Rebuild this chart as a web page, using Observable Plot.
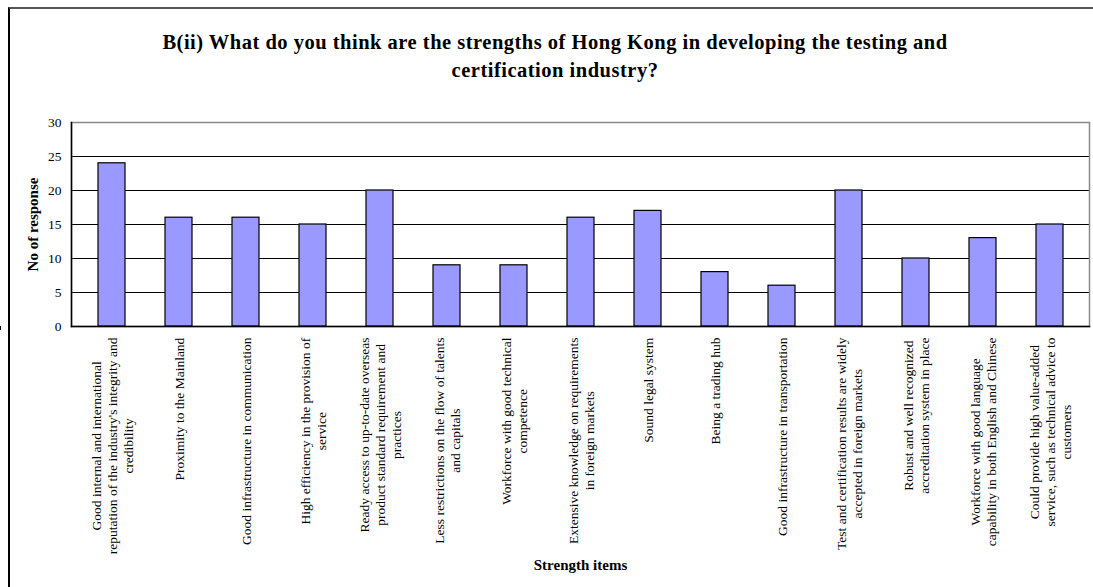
<!DOCTYPE html>
<html>
<head>
<meta charset="utf-8">
<script src="https://cdn.jsdelivr.net/npm/d3@7"></script>
<script src="https://cdn.jsdelivr.net/npm/@observablehq/plot@0.6"></script>
<style>
  html, body { margin: 0; padding: 0; background: #fff; overflow: hidden; }
  #wrap { position: relative; width: 1093px; height: 587px; background: #fff; }
  #border { position: absolute; left: 8px; top: 7px; width: 1200px; height: 700px; z-index: 5;
            pointer-events: none;
            border-left: 2px solid #000; border-top: 2px solid #555; box-sizing: border-box; }
  #title { position: absolute; left: 0; top: 28px; width: 1110px; text-align: center;
           font-family: "Liberation Serif", serif; font-weight: bold; font-size: 20.5px;
           letter-spacing: 0.5px; line-height: 28px; color: #000; }
  #chart { position: absolute; left: 0; top: 100px; }
</style>
</head>
<body>
<div id="wrap">
  <div id="border"></div>
  <div id="title">B(ii) What do you think are the strengths of Hong Kong in developing the testing and<br>certification industry?</div>
  <div id="chart"></div>
</div>
<script>
const categories = [
  "Good internal and international\nreputation of the industry's integrity and\ncredibility",
  "Proximity to the Mainland",
  "Good infrastructure in communication",
  "High efficiency in the provision of\nservice",
  "Ready access to up-to-date overseas\nproduct standard requirement and\npractices",
  "Less restrictions on the flow of talents\nand capitals",
  "Workforce with good technical\ncompetence",
  "Extensive knowledge on requirements\nin foreign markets",
  "Sound legal system",
  "Being a trading hub",
  "Good infrastructure in transportation",
  "Test and certification results are widely\naccepted in foreign markets",
  "Robust and well recognized\naccreditation system in place",
  "Workforce with good language\ncapability in both English and Chinese",
  "Could provide high value-added\nservice, such as technical advice to\ncustomers"
];
const values = [24, 16, 16, 15, 20, 9, 9, 16, 17, 8, 6, 20, 10, 13, 15];
const yTicks = [0, 5, 10, 15, 20, 25, 30];
const yLabel = "No of response";
const xLabel = "Strength items";

const data = categories.map((c, i) => ({label: c, value: values[i]}));

const W = 1093, H = 487, mT = 22, mL = 71, mR = 4, mB = 261;
const padInner = 0.6;

const boundaryTicks = (index, scales, vals, dims) => {
  const g = d3.create("svg:g").attr("stroke", "#000");
  const xs = categories.map(c => scales.x(c));
  const step = xs[1] - xs[0];
  const bw = scales.x.bandwidth ? scales.x.bandwidth : step * (1 - padInner);
  const yb = dims.height - dims.marginBottom;
  for (let i = 1; i < categories.length; i++) {
    const bx = Math.round(xs[i] + bw / 2 - step / 2) + 0.5;
    g.append("line").attr("x1", bx).attr("x2", bx).attr("y1", yb).attr("y2", yb + 4);
  }
  return g.node();
};

const chart = Plot.plot({
  width: W, height: H,
  marginTop: mT, marginLeft: mL, marginRight: mR, marginBottom: mB,
  style: {fontFamily: "'Liberation Serif', serif", fontSize: "13px", color: "#000", background: "transparent"},
  x: {domain: categories, paddingInner: padInner, paddingOuter: padInner / 2, axis: null},
  y: {domain: [0, 30], axis: null},
  marks: [
    Plot.ruleY(yTicks.filter(v => v > 0 && v < 30), {stroke: "#000", strokeWidth: 1}),
    Plot.frame({stroke: "#888", strokeWidth: 1.5}),
    Plot.barY(data, {x: "label", y: "value", fill: "#9999ff", stroke: "#000", strokeWidth: 1.2}),
    Plot.frame({anchor: "left", stroke: "#000", strokeWidth: 1.5}),
    Plot.frame({anchor: "bottom", stroke: "#000", strokeWidth: 1.5}),
    boundaryTicks,
    Plot.axisY({ticks: yTicks, tickSize: 0, tickPadding: 10, fontSize: 13.5, label: null, fill: "#000"}),
    Plot.text(data, {x: "label", text: "label", frameAnchor: "bottom", rotate: -90,
      textAnchor: "middle", lineAnchor: "middle", lineHeight: 1.2, fontSize: 13.5,
      fill: "#000", className: "xlab"}),
    Plot.text([yLabel], {text: d => d, frameAnchor: "left", dx: -38, rotate: -90,
      textAnchor: "middle", fontWeight: "bold", fontSize: 15, fill: "#000"}),
    Plot.text([xLabel], {text: d => d, frameAnchor: "bottom", dy: 243, textAnchor: "middle",
      fontWeight: "bold", fontSize: 15, fill: "#000"})
  ]
});
document.getElementById("chart").appendChild(chart);

// Center each multi-line tick label on its longest line, with the top end just below the axis
const topY = H - mB + 11;
chart.querySelectorAll("g.xlab text").forEach(t => {
  const len = t.getBBox().width;
  const tr = t.getAttribute("transform") || "";
  const m = tr.match(/translate\(([-\d.e]+)[ ,]+([-\d.e]+)\)/);
  if (m) {
    t.setAttribute("transform", `translate(${m[1]},${topY + len / 2}) rotate(-90)`);
  }
});
</script>
</body>
</html>
